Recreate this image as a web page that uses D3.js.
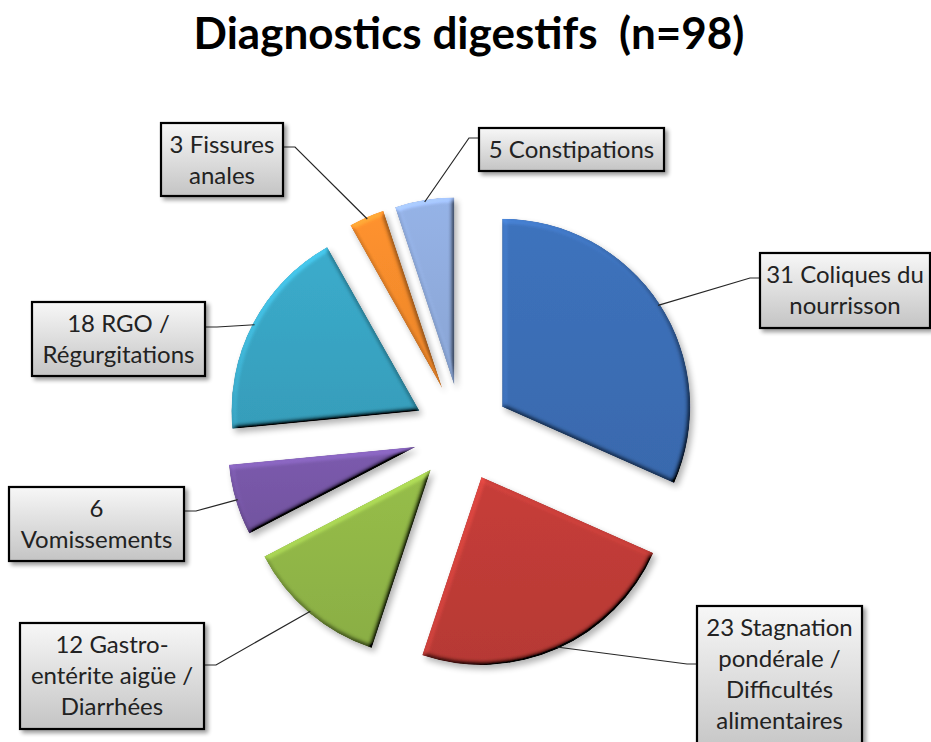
<!DOCTYPE html>
<html>
<head>
<meta charset="utf-8">
<script src="https://cdn.jsdelivr.net/npm/d3@7/dist/d3.min.js"></script>
<style>
  html, body { margin: 0; padding: 0; background: #fff; }
  svg { display: block; }
  text { font-family: Lato, "Noto Sans", sans-serif; }
</style>
</head>
<body>
<svg id="chart" width="931" height="742"></svg>
<script>
// data, clockwise from 12 o'clock
const categories = ['Coliques du nourrisson', 'Stagnation pondérale / Difficultés alimentaires',
    'Gastro-entérite aigüe / Diarrhées', 'Vomissements', 'RGO / Régurgitations',
    'Fissures anales', 'Constipations'];
const values = [31, 23, 12, 6, 18, 3, 5];
const labelLines = [
    ['31 Coliques du', 'nourrisson'],
    ['23 Stagnation', 'pondérale /', 'Difficultés', 'alimentaires'],
    ['12 Gastro-', 'entérite aigüe /', 'Diarrhées'],
    ['6', 'Vomissements'],
    ['18 RGO /', 'Régurgitations'],
    ['3 Fissures', 'anales'],
    ['5 Constipations']
];
const colors = ['#3b6db3', '#bd3b36', '#8fb446', '#7656a5', '#38a3c1', '#f28a2c', '#8eaadb'];
const title = 'Diagnostics digestifs  (n=98)';

// label boxes as Excel placed them: x, y, w, h, leader attach y, leader side
const labelBoxes = [
    { x: 760, y: 253, w: 170, h: 75, ly: 278, side: 'left' },
    { x: 697, y: 606, w: 165, h: 150, ly: 664, side: 'left' },
    { x: 20, y: 623, w: 184, h: 106, ly: 665, side: 'right' },
    { x: 9, y: 487, w: 175, h: 74, ly: 511, side: 'right' },
    { x: 32, y: 302, w: 173, h: 74, ly: 327, side: 'right' },
    { x: 161, y: 123, w: 122, h: 73, ly: 147, side: 'right' },
    { x: 479, y: 128, w: 185, h: 43, ly: 138, side: 'left' }
];

const cx = 462, cy = 433, radius = 188, explode = 48;

const svg = d3.select('#chart');
const defs = svg.append('defs');

// soft bevel + drop shadow for the slices
const bevel = defs.append('filter').attr('id', 'bevel')
    .attr('x', '-20%').attr('y', '-20%').attr('width', '140%').attr('height', '140%');
bevel.append('feGaussianBlur').attr('in', 'SourceAlpha').attr('stdDeviation', 2.5).attr('result', 'bump');
bevel.append('feDiffuseLighting').attr('in', 'bump').attr('surfaceScale', 4)
    .attr('diffuseConstant', 1).attr('lighting-color', '#fff').attr('result', 'diff')
    .append('feDistantLight').attr('azimuth', 235).attr('elevation', 45);
bevel.append('feComposite').attr('in', 'SourceGraphic').attr('in2', 'diff')
    .attr('operator', 'arithmetic').attr('k1', 1.414).attr('k2', 0).attr('k3', 0).attr('k4', 0)
    .attr('result', 'lit');
bevel.append('feComposite').attr('in', 'lit').attr('in2', 'SourceAlpha').attr('operator', 'in').attr('result', 'litIn');
bevel.append('feGaussianBlur').attr('in', 'SourceAlpha').attr('stdDeviation', 3).attr('result', 'sb');
bevel.append('feOffset').attr('in', 'sb').attr('dx', 3).attr('dy', 4).attr('result', 'so');
bevel.append('feComponentTransfer').attr('in', 'so').attr('result', 'shadow')
    .append('feFuncA').attr('type', 'linear').attr('slope', 0.3);
const bm = bevel.append('feMerge');
bm.append('feMergeNode').attr('in', 'shadow');
bm.append('feMergeNode').attr('in', 'litIn');

// label shadow
const boxShadow = defs.append('filter').attr('id', 'boxShadow')
    .attr('x', '-10%').attr('y', '-10%').attr('width', '130%').attr('height', '130%');
boxShadow.append('feGaussianBlur').attr('in', 'SourceAlpha').attr('stdDeviation', 2).attr('result', 'b');
boxShadow.append('feOffset').attr('in', 'b').attr('dx', 3).attr('dy', 3).attr('result', 'o');
boxShadow.append('feComponentTransfer').attr('in', 'o').attr('result', 's')
    .append('feFuncA').attr('type', 'linear').attr('slope', 0.4);
const bsm = boxShadow.append('feMerge');
bsm.append('feMergeNode').attr('in', 's');
bsm.append('feMergeNode').attr('in', 'SourceGraphic');

const boxGrad = defs.append('linearGradient').attr('id', 'boxGrad')
    .attr('x1', 0).attr('y1', 0).attr('x2', 0).attr('y2', 1);
boxGrad.append('stop').attr('offset', '0%').attr('stop-color', '#f7f7f7');
boxGrad.append('stop').attr('offset', '100%').attr('stop-color', '#c4c4c4');

// per-slice gradient, slightly lighter at the top
colors.forEach(function (c, i) {
    const g = defs.append('linearGradient').attr('id', 'sg' + i)
        .attr('x1', 0).attr('y1', 0).attr('x2', 0).attr('y2', 1);
    g.append('stop').attr('offset', '0%').attr('stop-color', d3.color(c).brighter(0.15));
    g.append('stop').attr('offset', '100%').attr('stop-color', d3.color(c).darker(0.1));
});

// title
svg.append('text')
    .attr('x', 469).attr('y', 49)
    .attr('text-anchor', 'middle')
    .style('white-space', 'pre')
    .attr('font-size', 44).attr('font-weight', 'bold').attr('fill', '#000')
    .text(title);

const pie = d3.pie().sort(null).value(function (d) { return d; });
const arcs = pie(values);
const arc = d3.arc().innerRadius(0).outerRadius(radius);

function offsetOf(d) {
    const a = (d.startAngle + d.endAngle) / 2;
    return [Math.sin(a) * explode, -Math.cos(a) * explode];
}

const g = svg.append('g').attr('transform', 'translate(' + cx + ',' + cy + ')');

g.selectAll('.slice').data(arcs).enter().append('path')
    .attr('class', 'slice')
    .attr('transform', function (d) {
        const o = offsetOf(d);
        return 'translate(' + o[0] + ',' + o[1] + ')';
    })
    .attr('d', arc)
    .attr('fill', function (d, i) { return 'url(#sg' + i + ')'; })
    .attr('filter', 'url(#bevel)');

// leader lines: box edge -> short horizontal -> slice edge at mid angle
const leaders = svg.append('g');
arcs.forEach(function (d, i) {
    const b = labelBoxes[i];
    const o = offsetOf(d);
    const a = (d.startAngle + d.endAngle) / 2;
    const px = cx + o[0] + Math.sin(a) * (radius - 2);
    const py = cy + o[1] - Math.cos(a) * (radius - 2);
    const bx = b.side === 'left' ? b.x : b.x + b.w;
    const hx = b.side === 'left' ? bx - 10 : bx + 12;
    leaders.append('path')
        .attr('d', d3.line()([[bx, b.ly], [hx, b.ly], [px, py]]))
        .attr('fill', 'none').attr('stroke', '#262626').attr('stroke-width', 1.2);
});

// labels
const labels = svg.selectAll('.lbl').data(arcs).enter().append('g').attr('class', 'lbl');
labels.append('rect')
    .attr('x', function (d, i) { return labelBoxes[i].x; })
    .attr('y', function (d, i) { return labelBoxes[i].y; })
    .attr('width', function (d, i) { return labelBoxes[i].w; })
    .attr('height', function (d, i) { return labelBoxes[i].h; })
    .attr('fill', 'url(#boxGrad)')
    .attr('stroke', '#000').attr('stroke-width', 2.2)
    .attr('filter', 'url(#boxShadow)');
labels.each(function (d, i) {
    const b = labelBoxes[i];
    const t = d3.select(this).append('text')
        .attr('text-anchor', 'middle')
        .attr('font-size', 24)
        .attr('fill', '#222');
    labelLines[i].forEach(function (line, j) {
        t.append('tspan').attr('x', b.x + b.w / 2).attr('y', b.y + 30 + j * 31).text(line);
    });
});
</script>
</body>
</html>
